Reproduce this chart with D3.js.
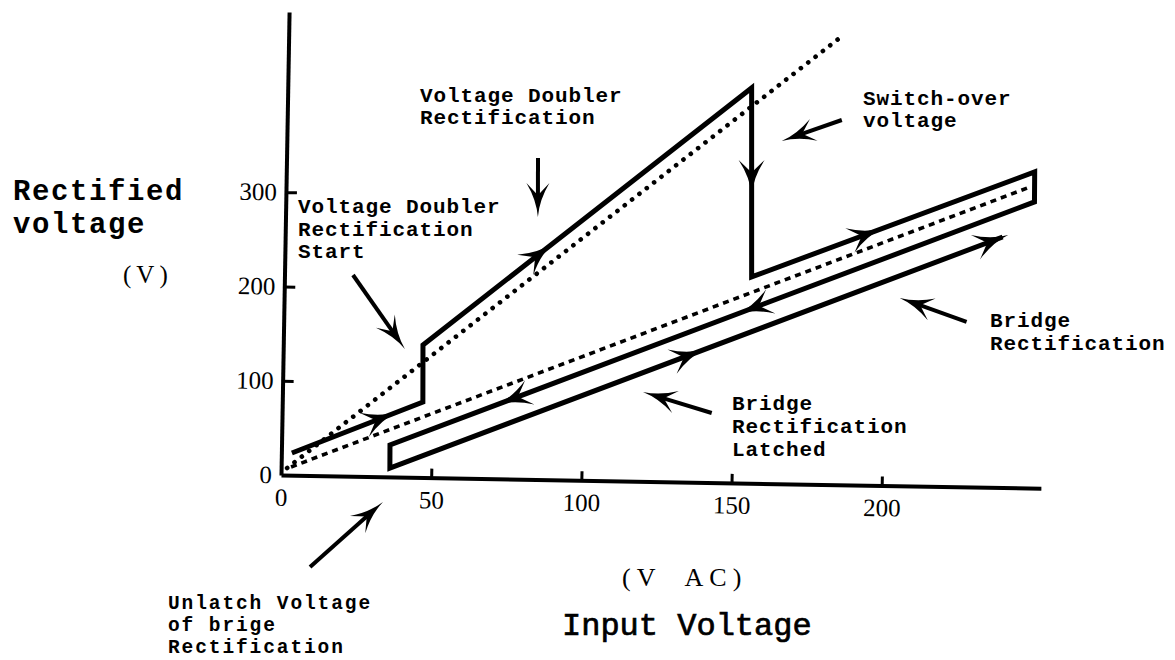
<!DOCTYPE html>
<html><head><meta charset="utf-8">
<script src="https://cdn.jsdelivr.net/npm/d3@7"></script>
<style>body{margin:0;background:#fff} svg{display:block}</style>
</head><body>
<svg id="c" width="1175" height="660"></svg>
<script>
// ---------- data ----------
const xTicks = [0, 50, 100, 150, 200];
const yTicks = [0, 100, 200, 300];
// operating path (input V AC -> rectified V), in traversal order
const pathVin  = [3.5, 46.8, 46.5, 154.4, 155.5, 249.1, 249.2, 36.1, 36.2, 238.8];
const pathVout = [23.5, 80.0, 140.5, 419.1, 218.7, 335.3, 303.5, 33.8, 9.4, 265.7];
// ideal (dotted) characteristics
const doublerIdealVin  = [2.0, 185.1];
const doublerIdealVout = [7.5, 478.1];
const bridgeIdealVin   = [3.3, 246.8];
const bridgeIdealVout  = [8.7, 318.2];
// direction arrows on the path: segment index and fraction along it
const arrowSeg = [0, 2, 3, 4, 6, 6, 8, 8];
const arrowPos = [0.80, 0.395, 0.566, 0.463, 0.46, 0.834, 0.514, 1.0];
// annotation pointers (data coords)
const noteFromVin  = [83.7, 184.6, 22.8, 227.3, 143.0, 10.2];
const noteFromVout = [340.9, 386.8, 213.4, 175.0, 73.7, -97.0];
const noteToVin    = [84.0, 164.7, 40.5, 204.9, 120.0, 34.1];
const noteToVout   = [278.3, 363.4, 135.9, 199.2, 94.7, -26.7];
// annotation texts
const noteLines = [
  ["Voltage Doubler", "Rectification"],
  ["Switch-over", "voltage"],
  ["Voltage Doubler", "Rectification", "Start"],
  ["Bridge", "Rectification"],
  ["Bridge", "Rectification", "Latched"],
  ["Unlatch Voltage", "of brige", "Rectification"]
];

// ---------- layout ----------
const svg = d3.select("#c");
const origin = [281, 475];
const x = d3.scaleLinear().domain([0, 253]).range([0, 760]);
const y = d3.scaleLinear().domain([0, 491]).range([0, -463]);

const g = svg.append("g").attr("transform", `translate(${origin[0]},${origin[1]}) rotate(1)`);

// axes
const xa = g.append("g").call(d3.axisBottom(x).tickValues(xTicks).tickSizeInner(-9).tickSizeOuter(0).tickPadding(13).tickFormat(d3.format("d")));
const ya = g.append("g").call(d3.axisLeft(y).tickValues(yTicks).tickSizeInner(-11).tickSizeOuter(0).tickPadding(9).tickFormat(d3.format("d")));
[xa, ya].forEach(a => {
  a.select(".domain").attr("stroke", "#000").attr("stroke-width", 4);
  a.selectAll(".tick line").attr("stroke", "#000").attr("stroke-width", 3);
  a.selectAll(".tick text").attr("font-family", "'Liberation Serif', serif").attr("font-size", 25).attr("fill", "#000");
});
ya.selectAll(".tick").filter(d => d === 0).select("line").remove();
xa.selectAll(".tick").filter(d => d === 0).select("line").remove();

// dotted ideal lines
const line = d3.line().x(d => x(d[0])).y(d => y(d[1]));
g.append("path").datum(doublerIdealVin.map((v, i) => [v, doublerIdealVout[i]]))
  .attr("d", line).attr("fill", "none").attr("stroke", "#000").attr("stroke-width", 4.6)
  .attr("stroke-linecap", "round").attr("stroke-dasharray", "0.1 9.2");
g.append("path").datum(bridgeIdealVin.map((v, i) => [v, bridgeIdealVout[i]]))
  .attr("d", line).attr("fill", "none").attr("stroke", "#000").attr("stroke-width", 3.6)
  .attr("stroke-dasharray", "6 5");

// operating path
const pts = pathVin.map((v, i) => [v, pathVout[i]]);
g.append("path").datum(pts).attr("d", line).attr("fill", "none")
  .attr("stroke", "#000").attr("stroke-width", 5).attr("stroke-linejoin", "miter");

function head(sel, px, py, ang, L, Wd) {
  sel.append("path")
    .attr("d", `M0,0 Q${-0.5 * L},${-0.06 * Wd} ${-L},${-Wd / 2} L${-0.64 * L},0 L${-L},${Wd / 2} Q${-0.5 * L},${0.06 * Wd} 0,0Z`)
    .attr("transform", `translate(${px},${py}) rotate(${ang * 180 / Math.PI})`)
    .attr("fill", "#000");
}

arrowSeg.forEach((s, i) => {
  const a = pts[s], b = pts[s + 1], t = arrowPos[i];
  const ax = x(a[0]), ay = y(a[1]), bx = x(b[0]), by = y(b[1]);
  const ang = Math.atan2(by - ay, bx - ax);
  let px = ax + (bx - ax) * t, py = ay + (by - ay) * t;
  if (t >= 1) { px += 6 * Math.cos(ang); py += 6 * Math.sin(ang); }
  head(g, px, py, ang, 35, 26);
});

// annotation pointers
noteFromVin.forEach((v, i) => {
  const x1 = x(v), y1 = y(noteFromVout[i]), x2 = x(noteToVin[i]), y2 = y(noteToVout[i]);
  const ang = Math.atan2(y2 - y1, x2 - x1);
  g.append("line").attr("x1", x1).attr("y1", y1)
    .attr("x2", x2 - 20 * Math.cos(ang)).attr("y2", y2 - 20 * Math.sin(ang))
    .attr("stroke", "#000").attr("stroke-width", 4);
  head(g, x2, y2, ang, 34, 23);
});

// ---------- texts ----------
const mono = "'Liberation Mono', 'DejaVu Sans Mono', monospace";
const serif = "'Liberation Serif', serif";
const noteX = [420, 863, 298, 990, 732, 168];
const noteY = [102, 105, 213, 327, 410, 609];
const noteGap = [22, 22, 22.5, 23, 23, 22];
noteLines.forEach((lines, i) => {
  const t = svg.append("text").attr("font-family", mono).attr("font-weight", "bold")
    .attr("font-size", i === 5 ? 19.5 : 21).attr("letter-spacing", i === 5 ? 1.9 : 0.9).attr("fill", "#000");
  lines.forEach((s, j) => t.append("tspan").attr("x", noteX[i]).attr("y", noteY[i] + j * noteGap[i]).text(s));
});

const yt = svg.append("text").attr("font-family", mono).attr("font-weight", "bold")
  .attr("font-size", 29).attr("letter-spacing", 1.6).attr("fill", "#000");
yt.append("tspan").attr("x", 13).attr("y", 200).text("Rectified");
yt.append("tspan").attr("x", 13).attr("y", 233).text("voltage");
svg.append("text").attr("x", 123).attr("y", 283).attr("font-family", serif).attr("font-size", 25)
  .attr("letter-spacing", 5).text("(V)");

svg.append("text").attr("x", 622).attr("y", 586).attr("font-family", serif).attr("font-size", 26)
  .attr("letter-spacing", 6).attr("xml:space", "preserve").style("white-space", "pre").text("(V  AC)");
svg.append("text").attr("x", 562).attr("y", 635).attr("font-family", mono).attr("font-size", 32)
  .attr("stroke", "#000").attr("stroke-width", 0.7).text("Input Voltage");
</script>
</body></html>
